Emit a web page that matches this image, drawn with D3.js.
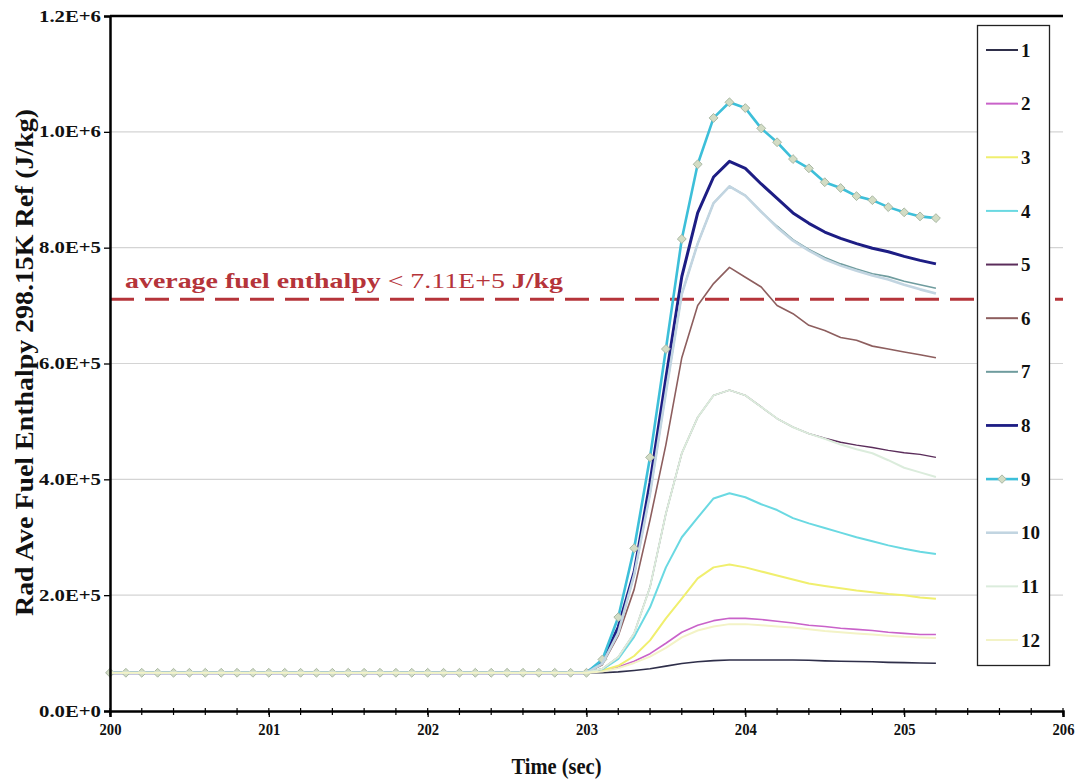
<!DOCTYPE html>
<html>
<head>
<meta charset="utf-8">
<script src="https://cdn.jsdelivr.net/npm/d3@7/dist/d3.min.js"></script>
<style>
  html, body { margin: 0; padding: 0; background: #ffffff; }
  svg { display: block; font-family: "Liberation Serif", "DejaVu Serif", serif; }
</style>
</head>
<body>
<svg id="chart" width="1085" height="783"></svg>
<script>
// Time axis samples (s): steady state, then the transient
const steadyTimes = [200.0, 200.1, 200.2, 200.3, 200.4, 200.5, 200.6, 200.7, 200.8, 200.9,
  201.0, 201.1, 201.2, 201.3, 201.4, 201.5, 201.6, 201.7, 201.8, 201.9,
  202.0, 202.1, 202.2, 202.3, 202.4, 202.5, 202.6, 202.7, 202.8, 202.9];
const steadyEnthalpy = [6.6e4, 6.6e4, 6.6e4, 6.6e4, 6.6e4, 6.6e4, 6.6e4, 6.6e4, 6.6e4, 6.6e4,
  6.6e4, 6.6e4, 6.6e4, 6.6e4, 6.6e4, 6.6e4, 6.6e4, 6.6e4, 6.6e4, 6.6e4,
  6.6e4, 6.6e4, 6.6e4, 6.6e4, 6.6e4, 6.6e4, 6.6e4, 6.6e4, 6.6e4, 6.6e4];
const transientTimes = [203.0, 203.1, 203.2, 203.3, 203.4, 203.5, 203.6, 203.7, 203.8, 203.9,
  204.0, 204.1, 204.2, 204.3, 204.4, 204.5, 204.6, 204.7, 204.8, 204.9,
  205.0, 205.1, 205.2];

// Radially averaged fuel enthalpy (J/kg) per radial node during the transient
const node1  = [6.6e4, 6.6e4, 6.75e4, 7.0e4, 7.3e4, 7.75e4, 8.2e4, 8.5e4, 8.7e4, 8.8e4, 8.8e4, 8.8e4, 8.8e4, 8.8e4, 8.75e4, 8.65e4, 8.6e4, 8.55e4, 8.5e4, 8.4e4, 8.35e4, 8.3e4, 8.25e4];
const node2  = [6.6e4, 6.9e4, 7.6e4, 8.6e4, 9.9e4, 1.17e5, 1.36e5, 1.48e5, 1.56e5, 1.6e5, 1.6e5, 1.58e5, 1.55e5, 1.52e5, 1.48e5, 1.46e5, 1.43e5, 1.41e5, 1.39e5, 1.36e5, 1.34e5, 1.32e5, 1.32e5];
const node3  = [6.6e4, 7.0e4, 7.8e4, 9.5e4, 1.22e5, 1.6e5, 1.94e5, 2.29e5, 2.48e5, 2.53e5, 2.48e5, 2.41e5, 2.34e5, 2.27e5, 2.2e5, 2.16e5, 2.12e5, 2.08e5, 2.05e5, 2.02e5, 2.0e5, 1.96e5, 1.94e5];
const node4  = [6.6e4, 7.2e4, 9.0e4, 1.28e5, 1.79e5, 2.48e5, 3.0e5, 3.34e5, 3.67e5, 3.76e5, 3.69e5, 3.57e5, 3.47e5, 3.33e5, 3.24e5, 3.16e5, 3.08e5, 3.0e5, 2.93e5, 2.86e5, 2.8e5, 2.75e5, 2.71e5];
const node5  = [6.6e4, 7.3e4, 9.3e4, 1.34e5, 2.14e5, 3.41e5, 4.45e5, 5.07e5, 5.45e5, 5.54e5, 5.45e5, 5.25e5, 5.05e5, 4.9e5, 4.79e5, 4.71e5, 4.64e5, 4.59e5, 4.55e5, 4.5e5, 4.46e5, 4.43e5, 4.38e5];
const node6  = [6.6e4, 8.0e4, 1.3e5, 2.1e5, 3.3e5, 4.6e5, 6.1e5, 7.0e5, 7.38e5, 7.66e5, 7.49e5, 7.32e5, 7.0e5, 6.86e5, 6.66e5, 6.57e5, 6.45e5, 6.4e5, 6.3e5, 6.25e5, 6.2e5, 6.15e5, 6.1e5];
const node7  = [6.6e4, 8.2e4, 1.35e5, 2.35e5, 3.75e5, 5.5e5, 7.2e5, 8.07e5, 8.77e5, 9.06e5, 8.9e5, 8.62e5, 8.37e5, 8.14e5, 7.97e5, 7.83e5, 7.72e5, 7.63e5, 7.55e5, 7.5e5, 7.42e5, 7.36e5, 7.3e5];
const node8  = [6.6e4, 8.5e4, 1.45e5, 2.4e5, 3.95e5, 5.75e5, 7.5e5, 8.6e5, 9.22e5, 9.49e5, 9.37e5, 9.1e5, 8.85e5, 8.6e5, 8.42e5, 8.27e5, 8.16e5, 8.07e5, 7.99e5, 7.93e5, 7.85e5, 7.78e5, 7.72e5];
const node9  = [6.6e4, 8.9e4, 1.62e5, 2.81e5, 4.38e5, 6.25e5, 8.15e5, 9.44e5, 1.024e6, 1.051e6, 1.041e6, 1.006e6, 9.82e5, 9.53e5, 9.37e5, 9.13e5, 9.03e5, 8.89e5, 8.82e5, 8.7e5, 8.61e5, 8.54e5, 8.51e5];
const node10 = [6.6e4, 8.2e4, 1.35e5, 2.35e5, 3.75e5, 5.5e5, 7.2e5, 8.07e5, 8.77e5, 9.06e5, 8.9e5, 8.62e5, 8.35e5, 8.12e5, 7.95e5, 7.8e5, 7.69e5, 7.6e5, 7.52e5, 7.45e5, 7.36e5, 7.28e5, 7.21e5];
const node11 = [6.6e4, 7.3e4, 9.3e4, 1.34e5, 2.14e5, 3.41e5, 4.45e5, 5.07e5, 5.45e5, 5.54e5, 5.45e5, 5.25e5, 5.05e5, 4.9e5, 4.79e5, 4.7e5, 4.6e5, 4.52e5, 4.45e5, 4.33e5, 4.2e5, 4.12e5, 4.04e5];
const node12 = [6.6e4, 6.8e4, 7.4e4, 8.3e4, 9.4e4, 1.09e5, 1.27e5, 1.39e5, 1.46e5, 1.5e5, 1.5e5, 1.48e5, 1.46e5, 1.44e5, 1.41e5, 1.38e5, 1.36e5, 1.34e5, 1.32e5, 1.3e5, 1.28e5, 1.27e5, 1.26e5];

const seriesNames = ["1", "2", "3", "4", "5", "6", "7", "8", "9", "10", "11", "12"];
const seriesValues = [node1, node2, node3, node4, node5, node6, node7, node8, node9, node10, node11, node12];
const seriesColors = ["#2f2f4a", "#c962c9", "#f0ef6e", "#6ad9e2", "#5b2d5b", "#8d5e5e",
                      "#6f9c9e", "#1d1d84", "#3dbfd9", "#c2d5e1", "#dbecdc", "#f3f3c6"];
const seriesWidths = [1.6, 1.6, 2, 2, 1.4, 1.6, 1.6, 3, 2.6, 2.6, 2, 2];

const xTicks = [200, 201, 202, 203, 204, 205, 206];
const yTicks = [0, 2e5, 4e5, 6e5, 8e5, 1e6, 1.2e6];
const yTickLabels = ["0.0E+0", "2.0E+5", "4.0E+5", "6.0E+5", "8.0E+5", "1.0E+6", "1.2E+6"];
const limitValue = 7.11e5;

(function drawChart() {
  const svg = d3.select("#chart");
  const plotLeft = 110, plotRight = 1063, plotTop = 16, plotBottom = 711;

  const x = d3.scaleLinear().domain([200, 206]).range([plotLeft, plotRight]);
  const y = d3.scaleLinear().domain([0, 1.2e6]).range([plotBottom, plotTop]);

  // Horizontal gridlines
  svg.append("g")
    .selectAll("line")
    .data(yTicks.slice(1, -1))
    .join("line")
    .attr("x1", plotLeft).attr("x2", plotRight)
    .attr("y1", d => y(d)).attr("y2", d => y(d))
    .attr("stroke", "#d4d4d4").attr("stroke-width", 1.2);

  // Enthalpy limit line
  svg.append("line")
    .attr("x1", plotLeft).attr("x2", plotRight)
    .attr("y1", y(limitValue)).attr("y2", y(limitValue))
    .attr("stroke", "#b5343a").attr("stroke-width", 3)
    .attr("stroke-dasharray", "24,11");

  const limitText = svg.append("text")
    .attr("x", 125).attr("y", y(limitValue) - 11)
    .attr("fill", "#b5343a").attr("font-size", 22).attr("font-weight", "bold")
    .attr("textLength", 438).attr("lengthAdjust", "spacingAndGlyphs");
  limitText.append("tspan").text("average fuel enthalpy ");
  limitText.append("tspan").attr("font-weight", "normal").text("< 7.11E+5 ");
  limitText.append("tspan").text("J/kg");

  // Series lines
  const seriesData = seriesValues.map((vals, i) => ({
    name: seriesNames[i],
    color: seriesColors[i],
    width: seriesWidths[i],
    points: steadyTimes.map((t, j) => [t, steadyEnthalpy[j]])
      .concat(transientTimes.map((t, j) => [t, vals[j]]))
  }));

  const line = d3.line().x(d => x(d[0])).y(d => y(d[1]));

  const plot = svg.append("g");
  seriesData.forEach(s => {
    plot.append("path")
      .attr("d", line(s.points))
      .attr("fill", "none")
      .attr("stroke", s.color)
      .attr("stroke-width", s.width)
      .attr("stroke-linejoin", "round");
    if (s.name === "9") {
      plot.append("g")
        .selectAll("path")
        .data(s.points)
        .join("path")
        .attr("d", d3.symbol(d3.symbolDiamond2, 50))
        .attr("transform", d => `translate(${x(d[0])},${y(d[1])})`)
        .attr("fill", "#d3dcc4")
        .attr("stroke", "#a9b8a4")
        .attr("stroke-width", 1);
    }
  });

  // Frame and axes
  svg.append("line").attr("x1", plotLeft).attr("x2", plotRight).attr("y1", plotTop).attr("y2", plotTop)
    .attr("stroke", "#000").attr("stroke-width", 2.5);

  const yAxis = d3.axisLeft(y).tickValues(yTicks).tickSize(6)
    .tickFormat((d, i) => yTickLabels[i]);
  const gy = svg.append("g").attr("transform", `translate(${plotLeft},0)`).call(yAxis);
  gy.select(".domain").attr("stroke-width", 2.5);
  gy.selectAll(".tick line").attr("stroke-width", 1.3);
  gy.selectAll(".tick text")
    .attr("x", -9)
    .attr("font-family", "Liberation Serif")
    .attr("font-weight", "bold")
    .attr("font-size", 16)
    .attr("textLength", 62).attr("lengthAdjust", "spacingAndGlyphs")
    .attr("fill", "#111");

  const xAxis = d3.axisBottom(x).tickValues(xTicks).tickSize(6).tickFormat(d3.format("d"));
  const gx = svg.append("g").attr("transform", `translate(0,${plotBottom})`).call(xAxis);
  gx.select(".domain").attr("stroke-width", 2.5);
  gx.selectAll(".tick line").attr("stroke-width", 1.3);
  gx.selectAll(".tick text")
    .attr("y", 12)
    .attr("font-family", "Liberation Serif")
    .attr("font-weight", "bold")
    .attr("font-size", 17)
    .attr("textLength", 22).attr("lengthAdjust", "spacingAndGlyphs")
    .attr("fill", "#111");

  // Minor ticks every 0.2 s
  svg.append("g")
    .selectAll("line")
    .data(d3.range(0, 31).map(i => 200 + i * 0.2))
    .join("line")
    .attr("x1", d => x(d)).attr("x2", d => x(d))
    .attr("y1", plotBottom - 3).attr("y2", plotBottom + 4)
    .attr("stroke", "#000").attr("stroke-width", 1.2);

  // Axis titles
  svg.append("text")
    .attr("x", (plotLeft + plotRight) / 2 - 30).attr("y", 774)
    .attr("text-anchor", "middle")
    .attr("font-size", 23).attr("font-weight", "bold").attr("fill", "#111")
    .attr("textLength", 90).attr("lengthAdjust", "spacingAndGlyphs")
    .text("Time (sec)");

  svg.append("text")
    .attr("transform", `translate(33,${(plotTop + plotBottom) / 2 - 1}) rotate(-90)`)
    .attr("text-anchor", "middle")
    .attr("font-size", 26).attr("font-weight", "bold").attr("fill", "#111")
    .attr("textLength", 507).attr("lengthAdjust", "spacingAndGlyphs")
    .text("Rad Ave Fuel Enthalpy 298.15K Ref (J/kg)");

  // Legend
  const legend = svg.append("g");
  legend.append("rect")
    .attr("x", 977.5).attr("y", 25.5).attr("width", 72).attr("height", 640)
    .attr("fill", "#fff").attr("stroke", "#222").attr("stroke-width", 1.3);

  const legendY = d3.scalePoint().domain(seriesNames).range([50, 640]);
  const items = legend.selectAll("g.item")
    .data(seriesData)
    .join("g")
    .attr("class", "item")
    .attr("transform", d => `translate(0,${legendY(d.name)})`);
  items.append("line")
    .attr("x1", 986).attr("x2", 1018)
    .attr("stroke", d => d.color)
    .attr("stroke-width", d => Math.max(2, Math.min(d.width, 2.8)));
  items.filter(d => d.name === "9").append("path")
    .attr("d", d3.symbol(d3.symbolDiamond2, 45))
    .attr("transform", "translate(1002,0)")
    .attr("fill", "#d3dcc4").attr("stroke", "#a9b8a4");
  items.append("text")
    .attr("x", 1021).attr("dy", "0.35em")
    .attr("font-size", 19).attr("font-weight", "bold").attr("fill", "#111")
    .text(d => d.name);
})();
</script>
